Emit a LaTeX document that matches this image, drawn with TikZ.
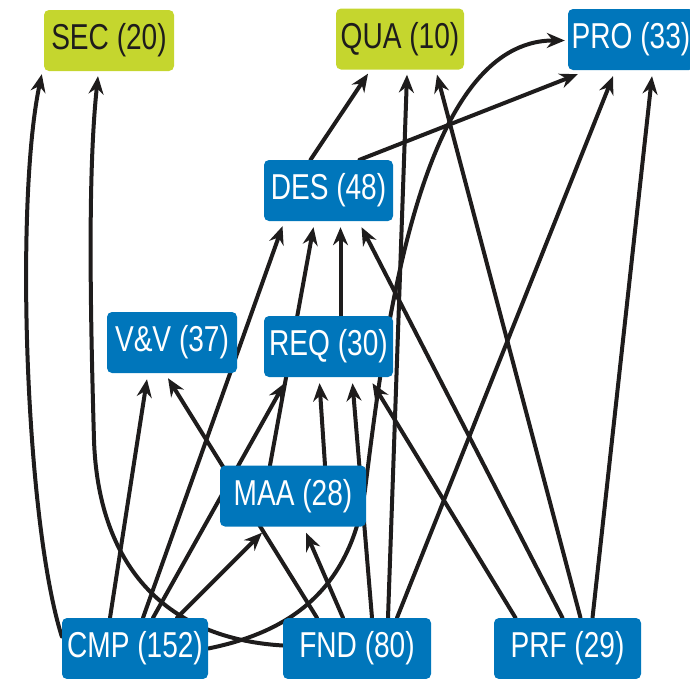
\documentclass[tikz,border=0pt]{standalone}
\usepackage{fontspec}
\setmainfont[FakeStretch=0.78]{Liberation Sans}
\usetikzlibrary{arrows.meta,calc,backgrounds}
\definecolor{nodeblue}{RGB}{0,118,187}
\definecolor{nodegreen}{RGB}{197,214,46}
\definecolor{ink}{RGB}{30,28,28}
\begin{document}
\begin{tikzpicture}[x=1pt,y=-1pt,
  box/.style={rectangle, rounded corners=5pt, minimum height=61pt, inner sep=0pt,
    font=\fontsize{36}{40}\selectfont},
  bluebox/.style={box, fill=nodeblue, text=white},
  greenbox/.style={box, fill=nodegreen, text=ink},
  link/.style={line width=4pt, draw=ink, line cap=round,
    -{Stealth[length=18pt,width=15pt,inset=6pt]}},
]
\useasboundingbox (0,0) rectangle (690,678);

% categories
\node[greenbox, minimum width=130pt] (sec) at (109,40.5) {SEC (20)};
\node[greenbox, minimum width=128pt] (qua) at (400,39) {QUA (10)};
\node[bluebox, minimum width=126pt] (pro) at (631,39.5) {PRO (33)};
\node[bluebox, minimum width=129pt] (des) at (328.5,190.5) {DES (48)};
\node[bluebox, minimum width=130pt] (vv) at (172,342.5) {V\&V (37)};
\node[bluebox, minimum width=129pt] (req) at (328.5,346.5) {REQ (30)};
\node[bluebox, minimum width=146pt] (maa) at (293,496) {MAA (28)};
\node[bluebox, minimum width=146pt] (cmp) at (135,648.5) {CMP (152)};
\node[bluebox, minimum width=148pt] (fnd) at (357,648.5) {FND (80)};
\node[bluebox, minimum width=147pt] (prf) at (567.5,648.5) {PRF (29)};

\begin{scope}[on background layer]
% from CMP
\draw[link] ($(cmp.north)+(-25,0)$) -- ($(vv.south)+(-25,6)$);
\draw[link] ($(cmp.north)+(8,0)$) -- ($(des.south)+(-46,5)$);
\draw[link] ($(cmp.north)+(18,0)$) -- ($(req.south)+(-44,6)$);
\draw[link] ($(cmp.north)+(42,0)$) -- ($(maa.south)+(-31,6)$);
\draw[link] ($(cmp.west)+(0,-12)$) .. controls (25,520) and (15,200) .. ($(sec.south west)+(-2,3)$);
\draw[link] (cmp.east) .. controls (290,632) and (350,590) .. (365,490)
  .. controls (385,330) and (420,40) .. ($(pro.west)+(-3,1)$);
% from FND
\draw[link] ($(fnd.west)+(0,-3)$) .. controls (160,638) and (98,560) .. (94,440)
  .. controls (90,300) and (88,170) .. ($(sec.south)+(-11,5)$);
\draw[link] ($(fnd.north)+(-40,0)$) -- ($(vv.south)+(-4,5)$);
\draw[link] ($(fnd.north)+(-14,0)$) -- ($(maa.south)+(13,6)$);
\draw[link] ($(fnd.north)+(15,0)$) -- ($(req.south)+(24,6)$);
\draw[link] ($(fnd.north)+(31,0)$) -- ($(qua.south)+(7,5)$);
\draw[link] ($(fnd.north)+(40,0)$) -- ($(pro.south)+(-18,6)$);
% from PRF
\draw[link] ($(prf.north)+(-52,0)$) -- ($(req.south)+(44,6)$);
\draw[link] ($(prf.north)+(-5,0)$) -- ($(des.south)+(33,6)$);
\draw[link] ($(prf.north)+(13,0)$) -- ($(qua.south)+(37,5)$);
\draw[link] ($(prf.north)+(25,0)$) -- ($(pro.south)+(21,6)$);
% from MAA, REQ, DES
\draw[link] ($(maa.north)+(32,0)$) -- ($(req.south)+(-9,6)$);
\draw[link] ($(maa.north)+(-23,0)$) -- ($(des.south)+(-15,6)$);
\draw[link] ($(req.north)+(12,0)$) -- ($(des.south)+(12,6)$);
\draw[link] ($(des.north)+(-18,0)$) -- ($(qua.south)+(-32,4)$);
\draw[link] ($(des.north)+(31,0)$) -- ($(pro.south west)+(10,4)$);
\end{scope}
\end{tikzpicture}
\end{document}
